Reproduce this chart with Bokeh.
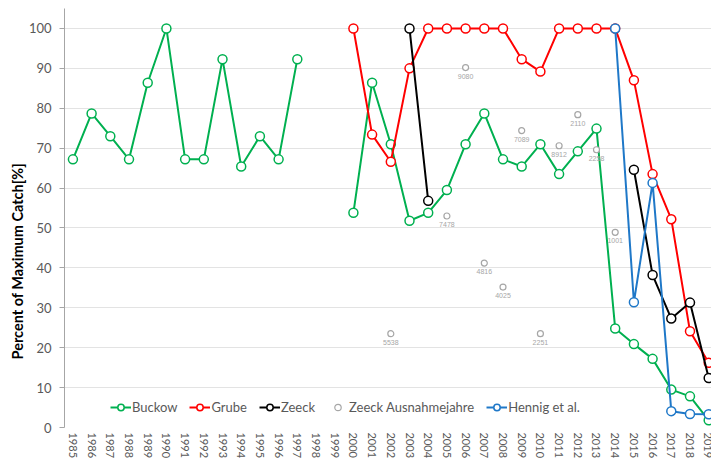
import math
from bokeh.plotting import figure
from bokeh.models import Range1d, FixedTicker, Legend, Title, ColumnDataSource
from bokeh.embed import file_html
from bokeh.resources import INLINE

nan = float("nan")

years = list(range(1985, 2020))
tick_labels = [str(y) for y in years]

buckow_years = list(range(1985, 1998)) + list(range(2000, 2020))
buckow_vals = [67.2, 78.7, 73.0, 67.2, 86.4, 100, 67.2, 67.2, 92.3, 65.4, 73.0, 67.2, 92.3,
               53.8, 86.4, 71.0, 51.8, 53.8, 59.5, 71.0, 78.7, 67.2, 65.4, 71.0, 63.5, 69.2,
               74.9, 24.8, 20.9, 17.2, 9.5, 7.8, 1.8]

grube_years = list(range(2000, 2020))
grube_vals = [100, 73.4, 66.6, 90.0, 100, 100, 100, 100, 100, 92.3, 89.2, 100, 100, 100, 100,
              87.0, 63.5, 52.2, 24.1, 16.2]

zeeck_years = [2003, 2004, 2015, 2016, 2017, 2018, 2019]
zeeck_vals = [100, 56.8, 64.6, 38.2, 27.3, 31.3, 12.4]

hennig_years = [2014, 2015, 2016, 2017, 2018, 2019]
hennig_vals = [100, 31.4, 61.3, 4.1, 3.4, 3.3]

ausn_years = [2002, 2005, 2006, 2007, 2008, 2009, 2010, 2011, 2012, 2013, 2014]
ausn_vals = [23.5, 53.0, 90.2, 41.2, 35.2, 74.4, 23.5, 70.6, 78.4, 69.6, 48.9]
ausn_labels = ["5538", "7478", "9080", "4816", "4025", "7089", "2251", "8912", "2110", "2258", "1001"]


def to_full(sub_years, vals):
    d = dict(zip(sub_years, vals))
    return [d.get(y, nan) for y in years]


FONT = "Lato"
GRAY_TXT = "#595959"

p = figure(width=711, height=461, output_backend="svg", toolbar_location=None,
           x_range=Range1d(1984.55, 2019.15), y_range=Range1d(0, 105),
           min_border_left=64, min_border_right=0, min_border_top=8, min_border_bottom=33)
p.outline_line_color = None
p.background_fill_color = "white"

# axes
p.yaxis.ticker = FixedTicker(ticks=list(range(0, 101, 10)))
p.ygrid.ticker = FixedTicker(ticks=list(range(0, 101, 10)) + [105])
p.ygrid.grid_line_color = "#E3E3E3"
p.xgrid.grid_line_color = None
p.yaxis.axis_line_color = "#A6A6A6"
p.yaxis.major_tick_line_color = "#A6A6A6"
p.yaxis.major_tick_out = 5
p.yaxis.major_tick_in = 0
p.yaxis.minor_tick_line_color = None
p.yaxis.major_label_standoff = 8
p.yaxis.major_label_text_font = FONT
p.yaxis.major_label_text_font_size = "13px"
p.yaxis.major_label_text_color = GRAY_TXT

p.xaxis.ticker = FixedTicker(ticks=years)
p.xaxis.major_label_overrides = {y: s for y, s in zip(years, tick_labels)}
p.xaxis.major_label_orientation = -math.pi / 2
p.xaxis.axis_line_color = None
p.xaxis.major_tick_line_color = None
p.xaxis.minor_tick_line_color = None
p.xaxis.major_tick_out = 0
p.xaxis.major_tick_in = 0
p.xaxis.major_label_standoff = 5
p.xaxis.major_label_text_font = FONT
p.xaxis.major_label_text_font_size = "11px"
p.xaxis.major_label_text_color = GRAY_TXT

p.add_layout(Title(text="Percent of Maximum Catch[%]", align="left", offset=68,
                   text_font=FONT, text_font_size="14.5px", text_font_style="bold",
                   text_color="black", standoff=0), "left")

series = [
    ("Buckow", buckow_years, buckow_vals, "#00B050"),
    ("Grube", grube_years, grube_vals, "#FF0000"),
    ("Zeeck", zeeck_years, zeeck_vals, "#000000"),
]

items = []
for name, sy, sv, col in series:
    full = to_full(sy, sv)
    r1 = p.line(years, full, line_color=col, line_width=2)
    r2 = p.scatter(years, full, marker="circle", size=9, fill_color="white",
                   line_color=col, line_width=1.5)
    items.append((name, [r1, r2]))

asrc = ColumnDataSource(dict(x=ausn_years, y=ausn_vals, t=ausn_labels))
ra = p.scatter("x", "y", source=asrc, marker="circle", size=6, fill_color="white",
               line_color="#A6A6A6", line_width=1.2)
p.text("x", "y", text="t", source=asrc, text_align="center", text_baseline="top",
       y_offset=6, text_font_size="7px", text_color="#A6A6A6")
items.append(("Zeeck Ausnahmejahre", [ra]))

hfull = to_full(hennig_years, hennig_vals)
h1 = p.line(years, hfull, line_color="#1F78C8", line_width=2)
h2 = p.scatter(years, hfull, marker="circle", size=9, fill_color="white",
               line_color="#1F78C8", line_width=1.5)
items.append(("Hennig et al.", [h1, h2]))

legend = Legend(items=items, orientation="horizontal", location=(46, 12),
                glyph_width=21, glyph_height=16, label_height=16, label_standoff=1,
                spacing=12, padding=0, margin=0, border_line_color=None,
                background_fill_alpha=0, label_text_font=FONT,
                label_text_font_size="13px", label_text_color=GRAY_TXT)
p.add_layout(legend, "center")

open("out.html", "w").write(file_html(p, INLINE))
